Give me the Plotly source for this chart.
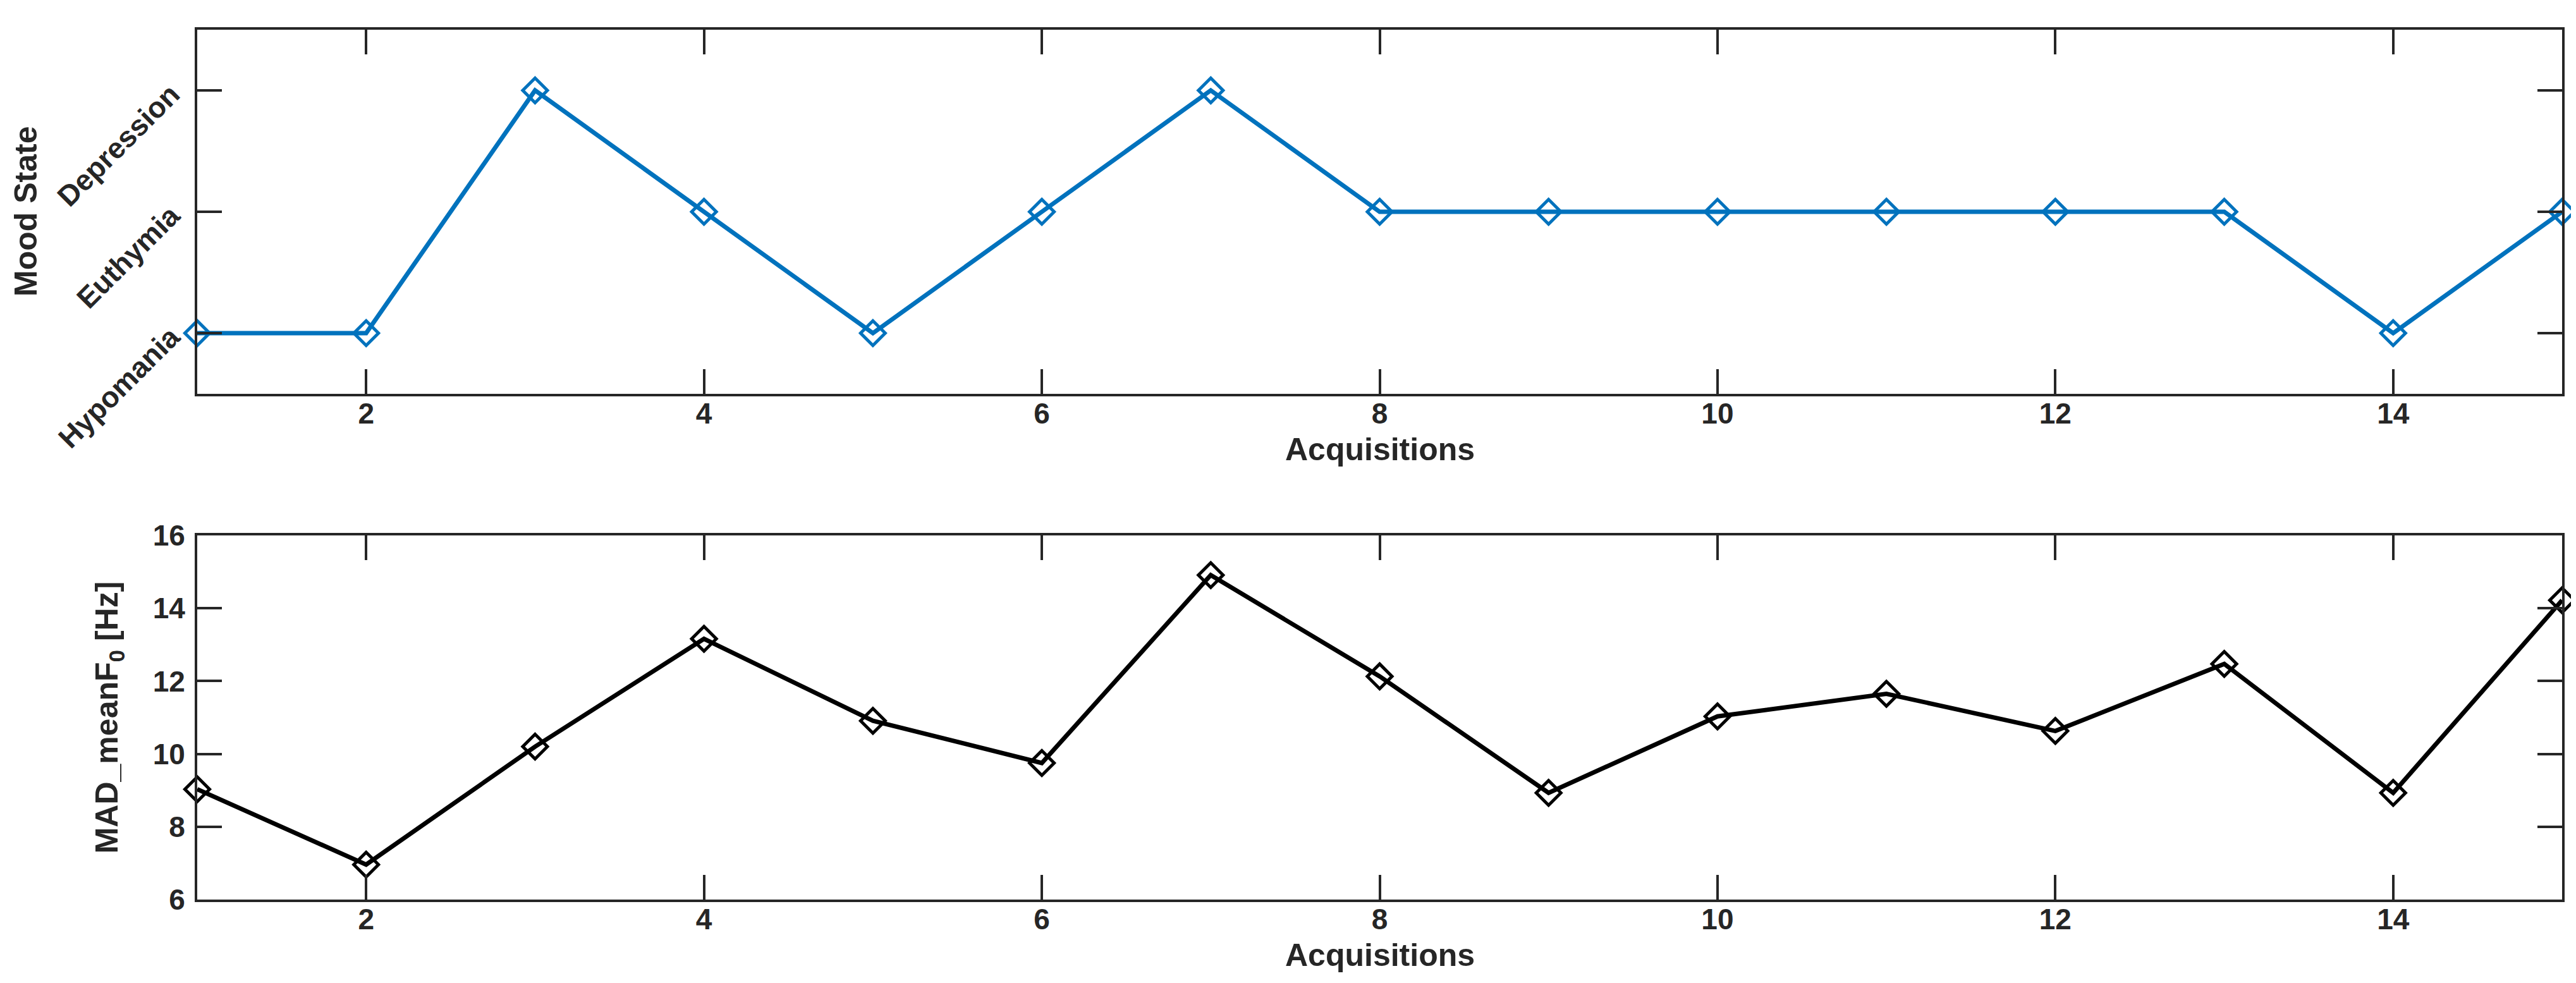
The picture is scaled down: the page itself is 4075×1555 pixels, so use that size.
import plotly.graph_objects as go
from plotly.subplots import make_subplots

acquisitions = list(range(1, 16))
mood_state = [1, 1, 3, 2, 1, 2, 3, 2, 2, 2, 2, 2, 2, 1, 2]
mood_tickvals = [1, 2, 3]
mood_ticktext = ["Hypomania", "Euthymia", "Depression"]
mad_meanf0 = [9.03, 6.96, 10.2, 13.16, 10.91, 9.75, 14.91, 12.13, 8.93, 11.03, 11.65, 10.63, 12.47, 8.93, 14.22]
x_tickvals = [2, 4, 6, 8, 10, 12, 14]
f0_tickvals = [6, 8, 10, 12, 14, 16]

W, H = 4075, 1555
ML, MR, MT, MB = 304, 30, 39, 140
axis_color = "#262626"
FONT = "Liberation Sans, Arial, Helvetica, sans-serif"
TICK_FS = 46
TITLE_FS = 50

fig = make_subplots(rows=2, cols=1, vertical_spacing=0.0)

fig.add_trace(go.Scatter(
    x=acquisitions, y=mood_state, mode="lines+markers",
    line=dict(color="#0072BD", width=7),
    marker=dict(symbol="diamond-open", size=30, color="#0072BD", line=dict(width=5, color="#0072BD")),
    cliponaxis=False, showlegend=False), row=1, col=1)

fig.add_trace(go.Scatter(
    x=acquisitions, y=mad_meanf0, mode="lines+markers",
    line=dict(color="#000000", width=7),
    marker=dict(symbol="diamond-open", size=30, color="#000000", line=dict(width=5, color="#000000")),
    cliponaxis=False, showlegend=False), row=2, col=1)

plot_h = H - MT - MB
top_bottom = 1 - (615 - MT) / plot_h
bot_top = 1 - (839 - MT) / plot_h

common_axis = dict(
    showline=True, linecolor=axis_color, linewidth=4, mirror="ticks",
    ticks="inside", ticklen=39, tickwidth=3.5, tickcolor=axis_color,
    showgrid=False, zeroline=False,
    tickfont=dict(family=FONT, size=TICK_FS, color=axis_color, weight="bold"),
)

fig.update_xaxes(**common_axis, range=[1, 15], tickvals=x_tickvals)
fig.update_yaxes(**common_axis)

title_font = dict(family=FONT, size=TITLE_FS, color=axis_color, weight="bold")

fig.update_layout(
    yaxis=dict(domain=[top_bottom, 1], range=[0.5, 3.5], tickvals=mood_tickvals,
               ticktext=mood_ticktext, tickangle=-45, ticklabelstandoff=28),
    yaxis2=dict(domain=[0, bot_top], range=[6, 16], tickvals=f0_tickvals,
                ticklabelstandoff=6,
                title=dict(text="MAD_meanF<sub>0</sub> [Hz]", standoff=40, font=title_font)),
    xaxis=dict(domain=[0, 1], ticklabelstandoff=-12),
    xaxis2=dict(domain=[0, 1], ticklabelstandoff=-12),
    width=W, height=H,
    margin=dict(l=ML, r=MR, t=MT, b=MB, autoexpand=False),
    paper_bgcolor="white", plot_bgcolor="white",
    font=dict(family=FONT, color=axis_color),
)

# axis titles placed as annotations for exact positioning
fig.add_annotation(text="Mood State", textangle=-90, font=title_font, showarrow=False,
                   xref="paper", x=0, xanchor="center", xshift=33 - ML,
                   yref="y domain", y=0.5, yanchor="middle")
fig.add_annotation(text="Acquisitions", font=title_font, showarrow=False,
                   xref="x domain", x=0.5, xanchor="center",
                   yref="y domain", y=0, yanchor="middle", yshift=-88)
fig.add_annotation(text="Acquisitions", font=title_font, showarrow=False,
                   xref="x2 domain", x=0.5, xanchor="center",
                   yref="y2 domain", y=0, yanchor="middle", yshift=-88)

fig.write_html("out.html")
